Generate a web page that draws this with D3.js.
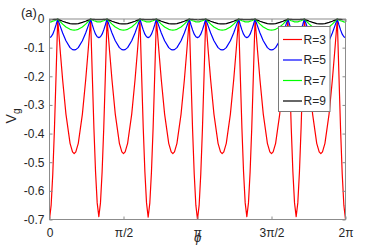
<!DOCTYPE html>
<html>
<head>
<meta charset="utf-8">
<script src="https://cdn.jsdelivr.net/npm/d3@7/dist/d3.min.js"></script>
<style>
  body { margin: 0; background: #fff; }
  svg text { font-family: "Liberation Sans", Arial, sans-serif; fill: #262626; }
</style>
</head>
<body>
<svg id="chart" width="382" height="247"></svg>
<script>
// phi in degrees
var phiDeg = [
  0,2,4,6,8,10,13,16,20,25,28,30,32,35,40,44,47,50,52,54,56,58,
  60,62,64,66,68,70,73,76,80,85,88,90,92,95,100,104,107,110,112,114,116,118,
  120,122,124,126,128,130,133,136,140,145,148,150,152,155,160,164,167,170,172,174,176,178,
  180,182,184,186,188,190,193,196,200,205,208,210,212,215,220,224,227,230,232,234,236,238,
  240,242,244,246,248,250,253,256,260,265,268,270,272,275,280,284,287,290,292,294,296,298,
  300,302,304,306,308,310,313,316,320,325,328,330,332,335,340,344,347,350,352,354,356,358,
  360
];
var vgR3 = [
  -0.700,-0.650,-0.540,-0.385,-0.195,0,-0.110,-0.213,-0.332,-0.434,-0.464,-0.470,-0.464,-0.434,-0.332,-0.213,-0.110,0,-0.192,-0.380,-0.533,-0.642,
  -0.690,-0.642,-0.533,-0.380,-0.192,0,-0.110,-0.213,-0.332,-0.434,-0.464,-0.470,-0.464,-0.434,-0.332,-0.213,-0.110,0,-0.192,-0.380,-0.533,-0.642,
  -0.692,-0.643,-0.534,-0.381,-0.193,0,-0.110,-0.213,-0.332,-0.434,-0.464,-0.470,-0.464,-0.434,-0.332,-0.213,-0.110,0,-0.195,-0.385,-0.540,-0.650,
  -0.700,-0.650,-0.540,-0.385,-0.195,0,-0.110,-0.213,-0.332,-0.434,-0.464,-0.470,-0.464,-0.434,-0.332,-0.213,-0.110,0,-0.192,-0.380,-0.533,-0.642,
  -0.690,-0.642,-0.533,-0.380,-0.192,0,-0.110,-0.213,-0.332,-0.434,-0.464,-0.470,-0.464,-0.434,-0.332,-0.213,-0.110,0,-0.192,-0.380,-0.533,-0.642,
  -0.690,-0.642,-0.533,-0.380,-0.192,0,-0.110,-0.213,-0.332,-0.434,-0.464,-0.470,-0.464,-0.434,-0.332,-0.213,-0.110,0,-0.195,-0.385,-0.540,-0.650,
  -0.700
];
var vgR5 = [
  -0.065,-0.062,-0.053,-0.038,-0.020,0,-0.025,-0.049,-0.076,-0.100,-0.107,-0.108,-0.107,-0.100,-0.076,-0.049,-0.025,0,-0.020,-0.038,-0.053,-0.062,
  -0.065,-0.062,-0.053,-0.038,-0.020,0,-0.025,-0.049,-0.076,-0.100,-0.107,-0.108,-0.107,-0.100,-0.076,-0.049,-0.025,0,-0.020,-0.038,-0.053,-0.062,
  -0.065,-0.062,-0.053,-0.038,-0.020,0,-0.025,-0.049,-0.076,-0.100,-0.107,-0.108,-0.107,-0.100,-0.076,-0.049,-0.025,0,-0.020,-0.038,-0.053,-0.062,
  -0.065,-0.062,-0.053,-0.038,-0.020,0,-0.025,-0.049,-0.076,-0.100,-0.107,-0.108,-0.107,-0.100,-0.076,-0.049,-0.025,0,-0.020,-0.038,-0.053,-0.062,
  -0.065,-0.062,-0.053,-0.038,-0.020,0,-0.025,-0.049,-0.076,-0.100,-0.107,-0.108,-0.107,-0.100,-0.076,-0.049,-0.025,0,-0.020,-0.038,-0.053,-0.062,
  -0.065,-0.062,-0.053,-0.038,-0.020,0,-0.025,-0.049,-0.076,-0.100,-0.107,-0.108,-0.107,-0.100,-0.076,-0.049,-0.025,0,-0.020,-0.038,-0.053,-0.062,
  -0.065
];
var vgR7 = [
  -0.011,-0.010,-0.008,-0.006,-0.003,0,-0.009,-0.018,-0.028,-0.036,-0.0385,-0.039,-0.0385,-0.036,-0.028,-0.018,-0.009,0,-0.003,-0.006,-0.008,-0.010,
  -0.010,-0.010,-0.008,-0.006,-0.003,0,-0.009,-0.018,-0.028,-0.036,-0.0385,-0.039,-0.0385,-0.036,-0.028,-0.018,-0.009,0,-0.003,-0.006,-0.008,-0.010,
  -0.010,-0.010,-0.008,-0.006,-0.003,0,-0.009,-0.018,-0.028,-0.036,-0.0385,-0.039,-0.0385,-0.036,-0.028,-0.018,-0.009,0,-0.003,-0.006,-0.008,-0.010,
  -0.010,-0.010,-0.008,-0.006,-0.003,0,-0.009,-0.018,-0.028,-0.036,-0.0385,-0.039,-0.0385,-0.036,-0.028,-0.018,-0.009,0,-0.003,-0.006,-0.008,-0.010,
  -0.010,-0.010,-0.008,-0.006,-0.003,0,-0.009,-0.018,-0.028,-0.036,-0.0385,-0.039,-0.0385,-0.036,-0.028,-0.018,-0.009,0,-0.003,-0.006,-0.008,-0.010,
  -0.010,-0.010,-0.008,-0.006,-0.003,0,-0.009,-0.018,-0.028,-0.036,-0.0385,-0.039,-0.0385,-0.036,-0.028,-0.018,-0.009,0,-0.003,-0.006,-0.008,-0.010,
  -0.011
];
var vgR9 = [
  -0.002,-0.002,-0.002,-0.001,-0.001,0,-0.004,-0.008,-0.012,-0.016,-0.0168,-0.017,-0.0168,-0.016,-0.012,-0.008,-0.004,0,-0.001,-0.001,-0.002,-0.002,
  -0.002,-0.002,-0.002,-0.001,-0.001,0,-0.004,-0.008,-0.012,-0.016,-0.0168,-0.017,-0.0168,-0.016,-0.012,-0.008,-0.004,0,-0.001,-0.001,-0.002,-0.002,
  -0.002,-0.002,-0.002,-0.001,-0.001,0,-0.004,-0.008,-0.012,-0.016,-0.0168,-0.017,-0.0168,-0.016,-0.012,-0.008,-0.004,0,-0.001,-0.001,-0.002,-0.002,
  -0.002,-0.002,-0.002,-0.001,-0.001,0,-0.004,-0.008,-0.012,-0.016,-0.0168,-0.017,-0.0168,-0.016,-0.012,-0.008,-0.004,0,-0.001,-0.001,-0.002,-0.002,
  -0.002,-0.002,-0.002,-0.001,-0.001,0,-0.004,-0.008,-0.012,-0.016,-0.0168,-0.017,-0.0168,-0.016,-0.012,-0.008,-0.004,0,-0.001,-0.001,-0.002,-0.002,
  -0.002,-0.002,-0.002,-0.001,-0.001,0,-0.004,-0.008,-0.012,-0.016,-0.0168,-0.017,-0.0168,-0.016,-0.012,-0.008,-0.004,0,-0.001,-0.001,-0.002,-0.002,
  -0.002
];
var seriesNames = ["R=3", "R=5", "R=7", "R=9"];
var seriesColors = ["#ff0000", "#0000ff", "#00ff00", "#000000"];
var xTicks = [0, Math.PI/2, Math.PI, 3*Math.PI/2, 2*Math.PI];
var xTickLabels = ["0", "\u03c0/2", "\u03c0", "3\u03c0/2", "2\u03c0"];
var yTicks = [0, -0.1, -0.2, -0.3, -0.4, -0.5, -0.6, -0.7];

var svg = d3.select('#chart');
var box = {left: 49.5, right: 345.5, top: 19, bottom: 219.5};

var x = d3.scaleLinear().domain([0, 2*Math.PI]).range([box.left, box.right]);
var y = d3.scaleLinear().domain([-0.7, 0]).range([box.bottom, box.top]);

svg.append('defs').append('clipPath').attr('id', 'clip')
  .append('rect')
  .attr('x', box.left).attr('y', box.top - 1)
  .attr('width', box.right - box.left).attr('height', box.bottom - box.top + 1);

var allSeries = [vgR3, vgR5, vgR7, vgR9];
var line = d3.line()
  .x(function(d){ return x(d[0]); })
  .y(function(d){ return y(d[1]); });

var curves = svg.append('g').attr('clip-path', 'url(#clip)');
allSeries.forEach(function(vals, k){
  var pts = phiDeg.map(function(p, i){ return [p*Math.PI/180, vals[i]]; });
  curves.append('path')
    .attr('d', line(pts))
    .attr('fill', 'none')
    .attr('stroke', seriesColors[k])
    .attr('stroke-width', 1.2)
    .attr('stroke-linejoin', 'round');
});

// box + axes
var tickLen = 3;
var axisColor = "#8c8c8c";
svg.append('rect')
  .attr('x', box.left).attr('y', box.top)
  .attr('width', box.right - box.left).attr('height', box.bottom - box.top)
  .attr('fill', 'none').attr('stroke', axisColor).attr('stroke-width', 1);

var bottomAxis = d3.axisBottom(x).tickValues(xTicks)
  .tickFormat(function(d, i){ return xTickLabels[i]; })
  .tickSizeInner(-tickLen).tickSizeOuter(0).tickPadding(9);
var gx = svg.append('g').attr('transform', 'translate(0,' + box.bottom + ')').call(bottomAxis);
var topAxis = d3.axisTop(x).tickValues(xTicks).tickFormat('')
  .tickSizeInner(-tickLen).tickSizeOuter(0);
var gxt = svg.append('g').attr('transform', 'translate(0,' + box.top + ')').call(topAxis);

var leftAxis = d3.axisLeft(y).tickValues(yTicks)
  .tickFormat(function(d){ return d === 0 ? "0" : d3.format(".1f")(d).replace("\u2212", "-"); })
  .tickSizeInner(-tickLen).tickSizeOuter(0).tickPadding(5);
var gy = svg.append('g').attr('transform', 'translate(' + box.left + ',0)').call(leftAxis);
var rightAxis = d3.axisRight(y).tickValues(yTicks).tickFormat('')
  .tickSizeInner(-tickLen).tickSizeOuter(0);
var gyr = svg.append('g').attr('transform', 'translate(' + box.right + ',0)').call(rightAxis);

[gx, gxt, gy, gyr].forEach(function(g){
  g.select('.domain').remove();
  g.selectAll('line').attr('stroke', axisColor);
  g.selectAll('text').style('font-size', '12px').attr('fill', '#262626');
});

// labels
svg.append('text').attr('x', 21).attr('y', 17).style('font-size', '13px').text('(a)');

svg.append('text')
  .attr('x', x(Math.PI)).attr('y', 242)
  .attr('text-anchor', 'middle')
  .style('font-size', '13px').style('font-style', 'italic')
  .text('\u03d5');

var yl = svg.append('text')
  .attr('transform', 'translate(15.5,116) rotate(-90)')
  .attr('text-anchor', 'middle')
  .style('font-size', '14px');
yl.append('tspan').text('V');
yl.append('tspan').attr('dy', 4).style('font-size', '10px').text('g');

// legend
var leg = svg.append('g');
leg.append('rect')
  .attr('x', 278.5).attr('y', 26.5).attr('width', 51.5).attr('height', 85)
  .attr('fill', '#fff').attr('stroke', '#7a7a7a').attr('stroke-width', 1);
seriesNames.forEach(function(name, k){
  var ly = 39.5 + k*20.5;
  leg.append('line')
    .attr('x1', 283).attr('x2', 302).attr('y1', ly).attr('y2', ly)
    .attr('stroke', seriesColors[k]).attr('stroke-width', 1.2);
  leg.append('text')
    .attr('x', 303.5).attr('y', ly + 4.3)
    .style('font-size', '12px')
    .text(name);
});
</script>
</body>
</html>
